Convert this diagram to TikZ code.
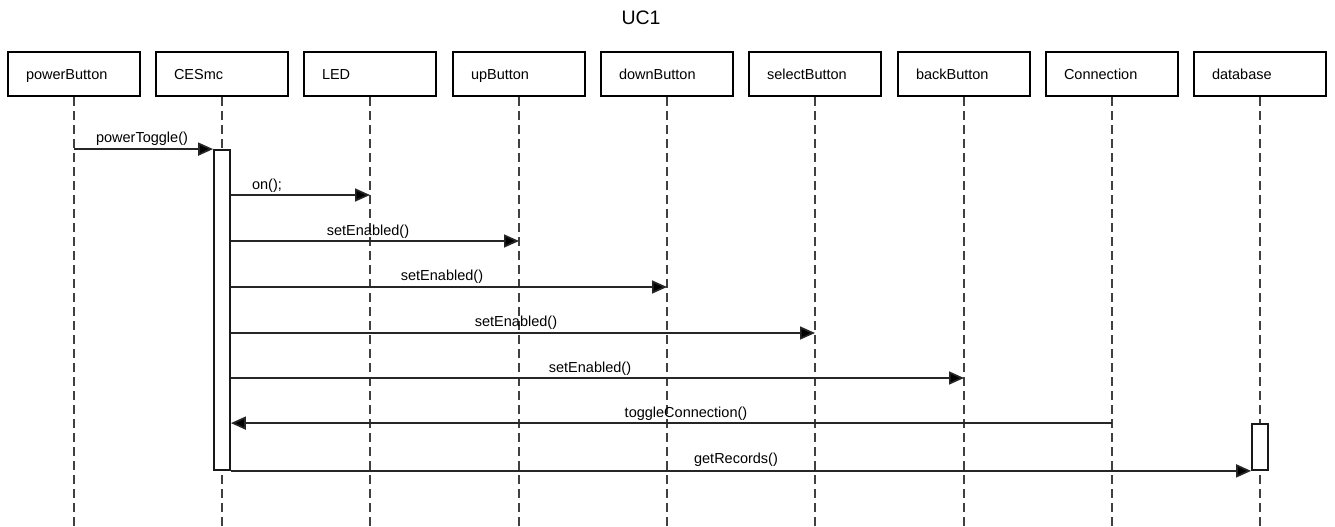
\documentclass[tikz,border=0pt]{standalone}
\usepackage{fontspec}
\setmainfont{Liberation Sans}
\usetikzlibrary{arrows.meta}
\begin{document}
\begin{tikzpicture}[x=1pt,y=-1pt,
  actor/.style={draw=black,line width=2.8pt,rectangle,minimum width=132pt,minimum height=44pt,
    inner xsep=18pt,text width=96pt,text height=14.5pt,text depth=3pt,align=left,font=\fontsize{14.5}{16}\selectfont},
  lifeline/.style={draw=black!75,line width=1.7pt,dash pattern=on 9pt off 5pt},
  act/.style={draw=black!90,line width=1.8pt,fill=white,rectangle,minimum width=16pt,inner sep=0pt},
  msg/.style={draw=black!85,line width=1.7pt,-{Triangle[length=15pt,width=13pt,fill=black]}},
  lbl/.style={font=\fontsize{14.5}{16}\selectfont,inner sep=0pt}]
\useasboundingbox (0,0) rectangle (1335,527);
\node[font=\fontsize{19.5}{22}\selectfont,inner sep=0pt] (title) at (641,18) {UC1};
\foreach \n/\t/\x in {pb/powerButton/74,ces/CESmc/222,led/LED/370,up/upButton/519,down/downButton/667,sel/selectButton/815,back/backButton/964,conn/Connection/1112,db/database/1260}{
  \node[actor] (\n) at (\x,74) {\t};
  \coordinate (\n bot) at (\x,527);
  \draw[lifeline] (\n.south) -- (\n bot);
}
\node[act,minimum height=320pt] (act1) at (222,310) {};
\node[act,minimum height=46pt] (act2) at (1260,447) {};
% messages
\draw[msg] (pb.south |- act1.north) -- (act1.north west);
\node[lbl] (m1) at (142,139) {powerToggle()};
\draw[msg] (act1.east |- 0,195) -- (led.south |- 0,195);
\node[lbl] (m2) at (267,186) {on();};
\draw[msg] (act1.east |- 0,241) -- (up.south |- 0,241);
\node[lbl] (m3) at (368,232) {setEnabled()};
\draw[msg] (act1.east |- 0,287) -- (down.south |- 0,287);
\node[lbl] (m4) at (442,277) {setEnabled()};
\draw[msg] (act1.east |- 0,333) -- (sel.south |- 0,333);
\node[lbl] (m5) at (516,323) {setEnabled()};
\draw[msg] (act1.east |- 0,378) -- (back.south |- 0,378);
\node[lbl] (m6) at (590,369) {setEnabled()};
\draw[msg] (conn.south |- act2.north) -- (act1.east |- act2.north);
\node[lbl] (m7) at (686,414) {toggleConnection()};
\draw[msg] (act1.south east) -- (act2.south west);
\node[lbl] (m8) at (736,460) {getRecords()};
\end{tikzpicture}
\end{document}
